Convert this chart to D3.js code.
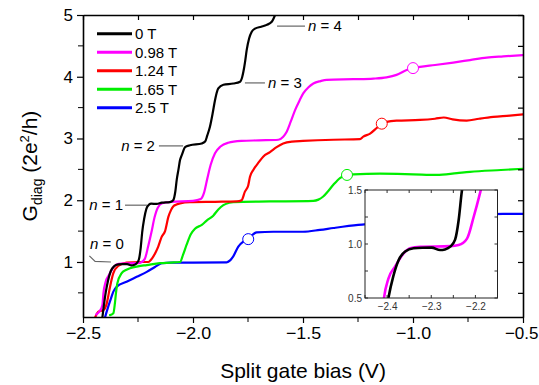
<!DOCTYPE html>
<html>
<head>
<meta charset="utf-8">
<script src="https://cdn.jsdelivr.net/npm/d3@7"></script>
<style>
  html, body { margin: 0; padding: 0; background: #fff; }
  svg { display: block; font-family: "Liberation Sans", Arial, Helvetica, sans-serif; }
</style>
</head>
<body>
<svg id="chart" width="539" height="385"></svg>
<script>
// Split gate bias (V) vs. diagonal conductance (2e^2/h), one trace per field.
const fields = ["0 T", "0.98 T", "1.24 T", "1.65 T", "2.5 T"];
const colors = ["#000000", "#ff00ff", "#ff0000", "#00ee00", "#0000ff"];

const bias0T = [-2.412,-2.405,-2.397,-2.386,-2.374,-2.359,-2.34,-2.32,-2.299,-2.28,-2.269,-2.257,-2.246,-2.238,-2.231,-2.222,-2.212,-2.2,-2.19,-2.165,-2.142,-2.105,-2.09,-2.08,-2.074,-2.066,-2.059,-2.051,-2.036,-2.014,-1.96,-1.945,-1.935,-1.923,-1.91,-1.9,-1.885,-1.862,-1.817,-1.786,-1.776,-1.771,-1.763,-1.756,-1.745,-1.733,-1.718,-1.69,-1.665,-1.642,-1.627];
const g0T    = [0.10,0.30,0.50,0.70,0.85,0.93,0.96,0.965,0.966,0.944,0.95,0.975,1.04,1.22,1.48,1.70,1.86,1.93,1.945,1.94,1.96,1.97,2.0,2.15,2.33,2.5,2.65,2.73,2.86,2.89,2.92,2.95,3.05,3.19,3.42,3.62,3.81,3.87,3.89,3.92,4.0,4.08,4.25,4.43,4.62,4.73,4.78,4.81,4.84,4.89,5.0];

const bias098 = [-2.44,-2.425,-2.412,-2.407,-2.397,-2.382,-2.363,-2.348,-2.325,-2.257,-2.238,-2.219,-2.204,-2.189,-2.175,-2.16,-2.14,-2.1,-2.0,-1.965,-1.95,-1.935,-1.92,-1.9,-1.875,-1.84,-1.78,-1.7,-1.612,-1.59,-1.574,-1.555,-1.536,-1.515,-1.499,-1.475,-1.453,-1.42,-1.392,-1.271,-1.18,-1.12,-1.075,-1.029,-1.0,-0.968,-0.9,-0.817,-0.741,-0.665,-0.59,-0.5];
const g098    = [0.15,0.2,0.3,0.5,0.68,0.79,0.91,0.96,0.975,0.98,0.99,1.05,1.25,1.48,1.72,1.88,1.95,1.975,1.99,2.02,2.12,2.35,2.57,2.76,2.87,2.93,2.96,2.97,2.98,3.03,3.11,3.28,3.46,3.62,3.73,3.83,3.89,3.93,3.95,3.96,3.97,3.99,4.03,4.11,4.14,4.16,4.19,4.23,4.27,4.31,4.33,4.35];

const bias124 = [-2.445,-2.43,-2.408,-2.392,-2.385,-2.377,-2.362,-2.34,-2.302,-2.241,-2.203,-2.19,-2.18,-2.168,-2.158,-2.142,-2.127,-2.112,-2.1,-2.09,-2.075,-2.059,-2.014,-1.9,-1.8,-1.779,-1.764,-1.749,-1.741,-1.726,-1.7,-1.68,-1.65,-1.62,-1.59,-1.55,-1.5,-1.362,-1.241,-1.226,-1.195,-1.165,-1.142,-1.12,-1.075,-0.968,-0.9,-0.86,-0.82,-0.756,-0.7,-0.635,-0.56,-0.5];
const g124    = [0.10,0.195,0.22,0.33,0.45,0.60,0.82,0.935,0.99,1.0,1.0,1.04,1.09,1.17,1.25,1.41,1.5,1.73,1.84,1.90,1.93,1.95,1.97,1.975,1.98,2.0,2.14,2.24,2.38,2.49,2.62,2.71,2.78,2.86,2.92,2.95,2.96,2.98,2.99,3.03,3.08,3.17,3.24,3.27,3.29,3.30,3.32,3.34,3.31,3.29,3.32,3.35,3.37,3.39];

const bias165 = [-2.377,-2.362,-2.355,-2.35,-2.344,-2.324,-2.305,-2.286,-2.25,-2.21,-2.15,-2.1,-2.059,-2.045,-2.029,-2.01,-1.991,-1.96,-1.938,-1.908,-1.885,-1.862,-1.835,-1.817,-1.65,-1.453,-1.43,-1.408,-1.385,-1.362,-1.332,-1.30,-1.271,-1.15,-1.0,-0.892,-0.8,-0.741,-0.6,-0.5];
const g165    = [0.14,0.17,0.33,0.5,0.65,0.82,0.87,0.90,0.93,0.95,0.98,0.99,1.0,1.12,1.28,1.45,1.54,1.6,1.67,1.75,1.85,1.92,1.96,1.97,1.98,1.99,2.01,2.06,2.15,2.25,2.36,2.41,2.42,2.43,2.42,2.41,2.44,2.46,2.49,2.51];

const bias25 = [-2.40,-2.392,-2.385,-2.372,-2.362,-2.347,-2.302,-2.256,-2.21,-2.173,-2.142,-2.1,-2.0,-1.847,-1.83,-1.817,-1.794,-1.771,-1.749,-1.73,-1.711,-1.635,-1.5,-1.423,-1.362,-1.249,-1.1,-0.9,-0.75,-0.59,-0.5];
const g25    = [0.10,0.2,0.28,0.42,0.52,0.60,0.68,0.76,0.84,0.92,0.98,0.99,0.99,0.995,1.03,1.09,1.25,1.33,1.37,1.44,1.48,1.49,1.49,1.52,1.55,1.60,1.64,1.70,1.74,1.78,1.78];

// open circles marking a point on each field trace (index into the trace)
const markerIndex = [null, 44, 42, 31, 18];

const xTicks = [-2.5, -2.0, -1.5, -1.0, -0.5];
const yTicks = [1, 2, 3, 4, 5];
const insetXTicks = [-2.4, -2.3, -2.2];
const insetYTicks = [0.5, 1.0, 1.5];

const plateauLabels = ["n = 0", "n = 1", "n = 2", "n = 3", "n = 4"];

const series = [
  { x: bias0T,  y: g0T },
  { x: bias098, y: g098 },
  { x: bias124, y: g124 },
  { x: bias165, y: g165 },
  { x: bias25,  y: g25 }
].map((s, i) => ({
  name: fields[i],
  color: colors[i],
  points: s.x.map((v, k) => [v, s.y[k]]),
  marker: markerIndex[i]
}));

const svg = d3.select("#chart");
const M = { left: 83, top: 15, right: 16, bottom: 68 };
const W = 539 - M.left - M.right;
const H = 385 - M.top - M.bottom;

const x = d3.scaleLinear().domain([-2.5, -0.5]).range([0, W]);
const y = d3.scaleLinear().domain([0.109, 5]).range([H, 0]);

const g = svg.append("g").attr("transform", `translate(${M.left},${M.top})`);

g.append("defs").append("clipPath").attr("id", "plotClip")
  .append("rect").attr("width", W).attr("height", H);

const line = d3.line().curve(d3.curveMonotoneX)
  .x(d => x(d[0])).y(d => y(d[1]));

// traces, drawn back to front so the 0 T trace sits on top
const traces = g.append("g").attr("clip-path", "url(#plotClip)");
series.slice().reverse().forEach(s => {
  traces.append("path").datum(s.points)
    .attr("d", line).attr("fill", "none")
    .attr("stroke", s.color).attr("stroke-width", 2.2)
    .attr("stroke-linejoin", "round").attr("stroke-linecap", "round");
});

// open circle markers
series.forEach(s => {
  if (s.marker == null) return;
  const p = s.points[s.marker];
  g.append("circle").attr("cx", x(p[0])).attr("cy", y(p[1])).attr("r", 5.5)
    .attr("fill", "#fff").attr("stroke", s.color).attr("stroke-width", 1);
});

// axes: labelled outward ticks bottom/left, mirrored inward ticks top/right
const xMinor = d3.range(-2.25, -0.5, 0.5);
const yMinor = [0.5, 1.5, 2.5, 3.5, 4.5];
const tickFont = 17;

const xAxis = g.append("g").attr("transform", `translate(0,${H})`)
  .call(d3.axisBottom(x).tickValues(xTicks).tickFormat(d3.format(".1f")).tickSize(6).tickSizeOuter(0).tickPadding(4));
xAxis.append("g").selectAll("line").data(xMinor).join("line")
  .attr("x1", d => x(d)).attr("x2", d => x(d)).attr("y1", 0).attr("y2", 5).attr("stroke", "#000");

const yAxis = g.append("g")
  .call(d3.axisLeft(y).tickValues(yTicks).tickFormat(d3.format("d")).tickSize(6).tickSizeOuter(0).tickPadding(4));
yAxis.append("g").selectAll("line").data(yMinor).join("line")
  .attr("x1", 0).attr("x2", -5).attr("y1", d => y(d)).attr("y2", d => y(d)).attr("stroke", "#000");

const xTop = g.append("g")
  .call(d3.axisTop(x).tickValues(xTicks.concat(xMinor)).tickFormat("").tickSize(-5).tickSizeOuter(0));
const yRight = g.append("g").attr("transform", `translate(${W},0)`)
  .call(d3.axisRight(y).tickValues(yTicks.concat(yMinor)).tickFormat("").tickSize(-5).tickSizeOuter(0));

[xAxis, yAxis, xTop, yRight].forEach(a => {
  a.select(".domain").attr("stroke", "#000").attr("stroke-width", 1.6);
  a.selectAll(".tick line").attr("stroke", "#000").attr("stroke-width", 1.2);
  a.selectAll(".tick text").attr("font-size", tickFont).attr("fill", "#000")
    .attr("font-family", "Liberation Sans, Arial, sans-serif");
});
xAxis.selectAll(".tick text").attr("transform", "scale(1.05,1)");
// the last label sits against the right edge of the page
xAxis.selectAll(".tick text").filter(d => d === -0.5)
  .attr("transform", null).attr("text-anchor", "end").attr("x", M.right - 1);

// axis titles
svg.append("text")
  .attr("x", M.left + W / 2).attr("y", 378)
  .attr("text-anchor", "middle").attr("font-size", 21)
  .text("Split gate bias (V)");

const yt = svg.append("text")
  .attr("transform", `translate(37,${M.top + H / 2}) rotate(-90)`)
  .attr("text-anchor", "middle").attr("font-size", 21);
yt.append("tspan").text("G");
yt.append("tspan").attr("font-size", 14).attr("dy", 5).text("diag");
yt.append("tspan").attr("dy", -5).text(" (2e");
yt.append("tspan").attr("font-size", 13).attr("dy", -8).text("2");
yt.append("tspan").attr("dy", 8).text("/h)");

// legend
const legend = g.append("g").attr("transform", "translate(14,18.7)");
series.forEach((s, i) => {
  const row = legend.append("g").attr("transform", `translate(0,${i * 18.5})`);
  row.append("line").attr("x1", 0).attr("x2", 35).attr("y1", 0).attr("y2", 0)
    .attr("stroke", s.color).attr("stroke-width", 3);
  row.append("text").attr("x", 38).attr("y", 5.5).attr("font-size", 15)
    .text(s.name);
});

// plateau labels with leader lines (anchors in data units)
const leaders = [
  { label: 0, tx: -2.468, ty: 1.215, anchor: "start", path: [[-2.471, 1.10], [-2.445, 1.01], [-2.373, 1.0]] },
  { label: 1, tx: -2.318, ty: 1.845, anchor: "end",   path: [[-2.309, 1.92], [-2.209, 1.92]] },
  { label: 2, tx: -2.173, ty: 2.80,  anchor: "end",   path: [[-2.155, 2.88], [-2.045, 2.88]] },
  { label: 3, tx: -1.659, ty: 3.82,  anchor: "start", path: [[-1.764, 3.90], [-1.673, 3.90]] },
  { label: 4, tx: -1.477, ty: 4.74,  anchor: "start", path: [[-1.618, 4.82], [-1.491, 4.82]] }
];
const leaderLine = d3.line().x(d => x(d[0])).y(d => y(d[1]));
leaders.forEach(l => {
  g.append("path").attr("d", leaderLine(l.path)).attr("fill", "none")
    .attr("stroke", "#666").attr("stroke-width", 1.2);
  const t = g.append("text").attr("x", x(l.tx)).attr("y", y(l.ty))
    .attr("text-anchor", l.anchor).attr("font-size", 15);
  const parts = plateauLabels[l.label].split(" ");
  t.append("tspan").attr("font-style", "italic").text(parts[0]);
  t.append("tspan").text(" " + parts.slice(1).join(" "));
});

// inset: close-up of the first plateau for 0 T and 0.98 T
const I = { left: 365, top: 190, width: 132.5, height: 108 };
const ix = d3.scaleLinear().domain([-2.45, -2.15]).range([0, I.width]);
const iy = d3.scaleLinear().domain([0.5, 1.5]).range([I.height, 0]);
const inset = svg.append("g").attr("transform", `translate(${I.left},${I.top})`);
inset.append("rect").attr("width", I.width).attr("height", I.height).attr("fill", "#fff");
inset.append("defs").append("clipPath").attr("id", "insetClip")
  .append("rect").attr("width", I.width).attr("height", I.height);
const iline = d3.line().curve(d3.curveMonotoneX).x(d => ix(d[0])).y(d => iy(d[1]));
const insetTraces = inset.append("g").attr("clip-path", "url(#insetClip)");
[series[1], series[0]].forEach(s => {
  insetTraces.append("path").datum(s.points).attr("d", iline).attr("fill", "none")
    .attr("stroke", s.color).attr("stroke-width", 2.6).attr("stroke-linejoin", "round");
});
const ixAll = d3.range(-2.45, -2.149, 0.05);
const iyAll = [0.5, 0.75, 1.0, 1.25, 1.5];
const ib = inset.append("g").attr("transform", `translate(0,${I.height})`)
  .call(d3.axisBottom(ix).tickValues(insetXTicks).tickFormat(d3.format(".1f")).tickSize(0).tickPadding(5));
const il = inset.append("g")
  .call(d3.axisLeft(iy).tickValues(insetYTicks).tickFormat(d3.format(".1f")).tickSize(0).tickPadding(3));
[ib, il].forEach(a => {
  a.select(".domain").remove();
  a.selectAll(".tick text").attr("font-size", 10).attr("fill", "#333");
});
const itk = inset.append("g").attr("stroke", "#333").attr("stroke-width", 1);
ixAll.forEach(v => {
  itk.append("line").attr("x1", ix(v)).attr("x2", ix(v)).attr("y1", 0).attr("y2", 3);
  itk.append("line").attr("x1", ix(v)).attr("x2", ix(v)).attr("y1", I.height).attr("y2", I.height - 3);
});
iyAll.forEach(v => {
  itk.append("line").attr("x1", 0).attr("x2", 3).attr("y1", iy(v)).attr("y2", iy(v));
  itk.append("line").attr("x1", I.width).attr("x2", I.width - 3).attr("y1", iy(v)).attr("y2", iy(v));
});
inset.append("rect").attr("width", I.width).attr("height", I.height)
  .attr("fill", "none").attr("stroke", "#222").attr("stroke-width", 1);
</script>
</body>
</html>
